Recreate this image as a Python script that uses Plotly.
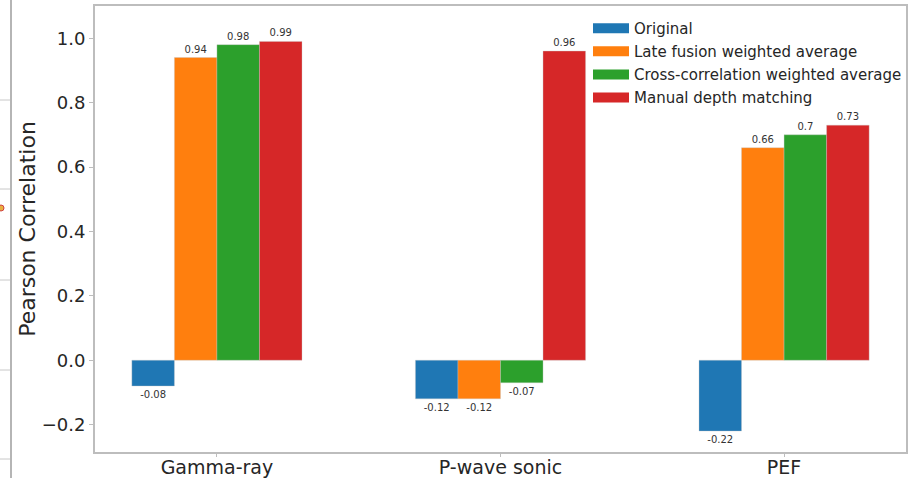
import plotly.graph_objects as go

# Well-log properties compared
categories = ["Gamma-ray", "P-wave sonic", "PEF"]

# Pearson correlation per depth-alignment method
original = [-0.08, -0.12, -0.22]
late_fusion = [0.94, -0.12, 0.66]
cross_corr = [0.98, -0.07, 0.70]
manual = [0.99, 0.96, 0.73]

series_names = [
    "Original",
    "Late fusion weighted average",
    "Cross-correlation weighted average",
    "Manual depth matching",
]
series_values = [original, late_fusion, cross_corr, manual]
colors = ["#1f77b4", "#ff7f0e", "#2ca02c", "#d62728"]

y_ticks = [-0.2, 0.0, 0.2, 0.4, 0.6, 0.8, 1.0]

W, H = 910, 478
L, R, T, B = 95, 4, 6, 26
pw, ph = W - L - R, H - T - B


def px(x):
    return (x - L) / pw


def py(y):
    return (H - B - y) / ph


fig = go.Figure()

for name, vals, col in zip(series_names, series_values, colors):
    fig.add_trace(go.Bar(
        x=categories,
        y=vals,
        name=name,
        marker=dict(color=col, line=dict(color="rgba(200,200,200,0.6)", width=0.6)),
        text=[f"{v:g}" for v in vals],
        textposition="outside",
        textfont=dict(family="DejaVu Sans", size=10, color="#333333"),
        cliponaxis=False,
        showlegend=False,
    ))

# legend entries drawn as wide colour patches
for i, (name, col) in enumerate(zip(series_names, colors)):
    fig.add_trace(go.Scatter(
        x=[None], y=[None], mode="lines", name=name,
        line=dict(color=col, width=10),
        legendgroup=f"g{i}",
    ))

# thin frame lines of the surrounding page on the far left
shapes = [dict(type="line", xref="paper", yref="paper",
               x0=px(11), x1=px(11), y0=py(0), y1=py(478),
               line=dict(color="#b5b5b5", width=2))]
for yy in [100, 189, 280, 370, 459]:
    shapes.append(dict(type="line", xref="paper", yref="paper",
                       x0=px(0), x1=px(10), y0=py(yy), y1=py(yy),
                       line=dict(color="#c8c8c8", width=1)))
shapes.append(dict(type="circle", xref="paper", yref="paper",
                   x0=px(-2), x1=px(4), y0=py(211), y1=py(205),
                   fillcolor="#e8b040", line=dict(color="#d04040", width=1)))

fig.update_layout(
    width=W, height=H,
    margin=dict(l=L, r=R, t=T, b=B, pad=0, autoexpand=False),
    paper_bgcolor="white",
    plot_bgcolor="white",
    barmode="group",
    bargap=0.4,
    bargroupgap=0.0,
    font=dict(family="DejaVu Sans", color="#262626"),
    shapes=shapes,
    legend=dict(
        x=px(588), y=py(12), xanchor="left", yanchor="top",
        bgcolor="rgba(255,255,255,0)",
        font=dict(family="DejaVu Sans", size=15, color="#262626"),
        tracegroupgap=0.6,
        itemwidth=36,
    ),
    showlegend=True,
)

fig.update_xaxes(
    range=[-0.43, 2.43],
    automargin=False,
    showline=True, mirror=True, linecolor="#bdbdbd", linewidth=2,
    ticks="outside", ticklen=3, tickcolor="#bdbdbd",
    ticklabelstandoff=-6,
    tickfont=dict(size=19, color="#262626"),
    showgrid=False, zeroline=False,
)
fig.update_yaxes(
    range=[-0.285, 1.1],
    automargin=False,
    tickvals=y_ticks,
    ticktext=[f"{v:.1f}".replace("-", "\u2212") for v in y_ticks],
    showline=True, mirror=True, linecolor="#bdbdbd", linewidth=2,
    ticks="outside", ticklen=4, tickcolor="#bdbdbd",
    tickfont=dict(size=18, color="#262626"),
    showgrid=False, zeroline=False,
    title=dict(text="Pearson Correlation", font=dict(size=22, color="#262626"), standoff=0),
)

fig.write_html("out.html")
